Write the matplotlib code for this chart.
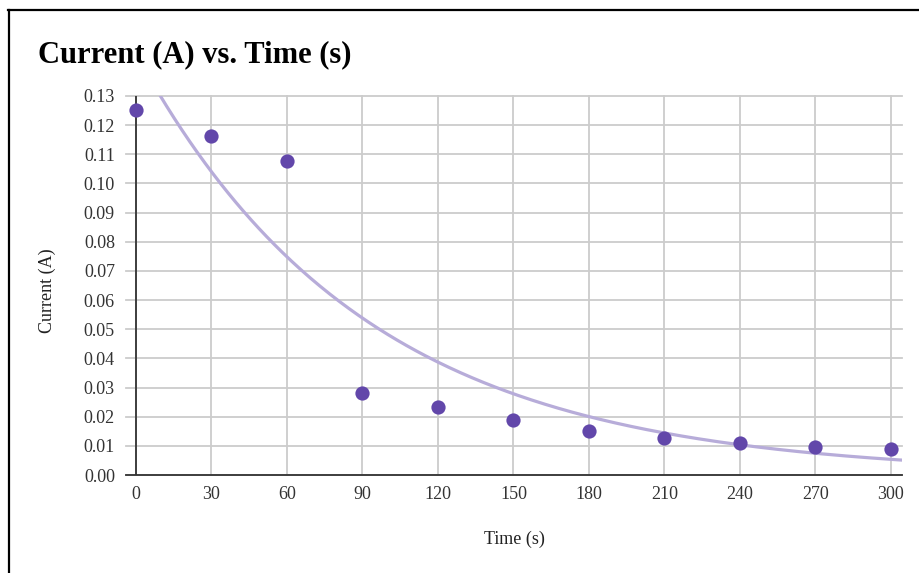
import numpy as np
import matplotlib
matplotlib.use("Agg")
import matplotlib.pyplot as plt
from matplotlib.lines import Line2D

# Data
time_s = [0, 30, 60, 90, 120, 150, 180, 210, 240, 270, 300]
current_a = [0.1252, 0.1163, 0.1077, 0.0281, 0.0234, 0.0189, 0.0152, 0.0127, 0.0110, 0.0097, 0.0089]
x_ticks = [0, 30, 60, 90, 120, 150, 180, 210, 240, 270, 300]
y_ticks = [0.00, 0.01, 0.02, 0.03, 0.04, 0.05, 0.06, 0.07, 0.08, 0.09, 0.10, 0.11, 0.12, 0.13]
# Exponential trendline parameters: y = A * exp(-K * t)
trend_a = 0.1446
trend_k = 0.01098

plt.rcParams['font.family'] = ['Liberation Serif', 'DejaVu Serif']

fig = plt.figure(figsize=(9.19, 5.73), dpi=100)
W, H = 919, 573
ax = fig.add_axes([126 / W, 1 - 475 / H, (902 - 126) / W, (475 - 96) / H])

grid_c = '#cccccc'
ax.set_xlim(-3.97, 304.4)
ax.set_ylim(0, 0.13)
ax.set_xticks(x_ticks)
ax.set_yticks(y_ticks)
ax.set_xticklabels([str(v) for v in x_ticks])
ax.set_yticklabels([f"{v:.2f}" for v in y_ticks])
ax.grid(True, color=grid_c, linewidth=1.3)
for gl in ax.get_ygridlines() + ax.get_xgridlines():
    gl.set_clip_on(False)
ax.set_axisbelow(True)
for s in ['top', 'right', 'left']:
    ax.spines[s].set_visible(False)
ax.spines['bottom'].set_color('#333333')
ax.spines['bottom'].set_linewidth(1.3)
ax.axvline(0, color='#333333', linewidth=1.3, zorder=1.5)
ax.tick_params(axis='both', length=0, labelsize=13, colors='#333333')
ax.tick_params(axis='y', pad=8)
ax.tick_params(axis='x', pad=8)

tt = np.linspace(0, 304.4, 400)
ax.plot(tt, trend_a * np.exp(-trend_k * tt), color='#b7acd9', linewidth=2.3, zorder=2, clip_on=True)
ax.scatter(time_s, current_a, s=105, color='#6247aa', zorder=3, clip_on=False, linewidths=0)

fig.text(514 / W, 1 - 539 / H, 'Time (s)', ha='center', va='center', fontsize=13, color='#222222')
fig.text(47 / W, 1 - 291 / H, 'Current (A)', ha='center', va='center', rotation=90, fontsize=13, color='#222222')
fig.text(38 / W, 1 - 62 / H, 'Current (A) vs. Time (s)', ha='left', va='baseline', fontsize=22, fontweight='bold', color='#000000')

fig.add_artist(Line2D([8 / W, 1], [1 - 10 / H, 1 - 10 / H], color='black', linewidth=1.6, transform=fig.transFigure))
fig.add_artist(Line2D([9 / W, 9 / W], [0, 1 - 10 / H], color='black', linewidth=1.6, transform=fig.transFigure))

fig.savefig('out.png', dpi=100)
